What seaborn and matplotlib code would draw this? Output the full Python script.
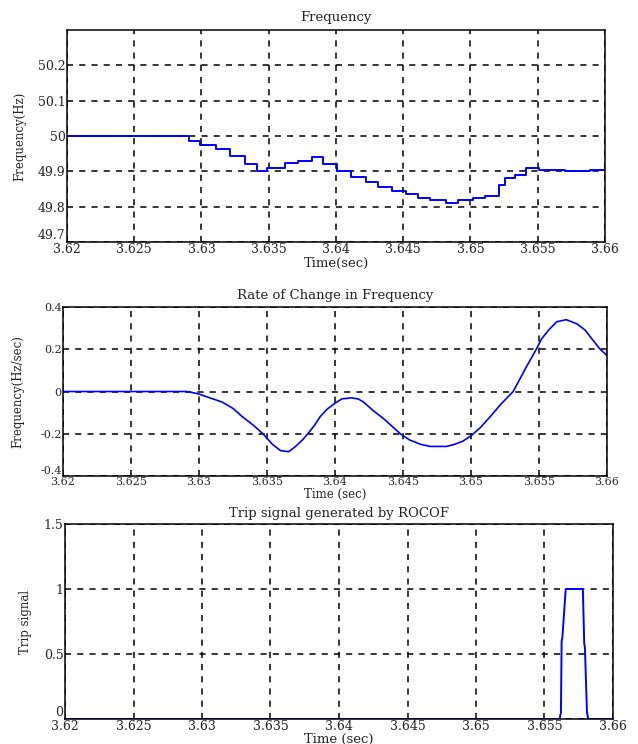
import numpy as np
import pandas as pd
import matplotlib
matplotlib.use("Agg")
import matplotlib.pyplot as plt
import seaborn as sns

# frequency (step signal), time in sec
freq_t = [3.620, 3.6291, 3.6299, 3.6311, 3.6321, 3.6332, 3.6341, 3.6349, 3.6362,
          3.6372, 3.6382, 3.6390, 3.6401, 3.6411, 3.6422, 3.6431, 3.6442, 3.6452,
          3.6461, 3.6470, 3.6482, 3.6491, 3.6502, 3.6511, 3.6521, 3.6526, 3.6533,
          3.6541, 3.6551, 3.6570, 3.6589, 3.660]
freq_hz = [50.0, 49.985, 49.975, 49.963, 49.942, 49.92, 49.90, 49.91, 49.925,
           49.93, 49.94, 49.92, 49.90, 49.885, 49.87, 49.857, 49.843, 49.835,
           49.825, 49.82, 49.81, 49.82, 49.825, 49.83, 49.86, 49.88, 49.89,
           49.91, 49.905, 49.90, 49.905, 49.905]

# rate of change of frequency
rocof_t = [3.620, 3.6291, 3.6299, 3.6308, 3.6317, 3.6325, 3.6332, 3.6340, 3.6347,
           3.6354, 3.6360, 3.6366, 3.6371, 3.6376, 3.6380, 3.6385, 3.6389, 3.6394,
           3.6399, 3.6405, 3.6412, 3.6417, 3.6421, 3.6428, 3.6436, 3.6442, 3.6448,
           3.6455, 3.6463, 3.6470, 3.6476, 3.6482, 3.6488, 3.6494, 3.6500, 3.6507,
           3.6514, 3.6522, 3.6531, 3.6536, 3.6541, 3.6548, 3.6552, 3.6557, 3.6563,
           3.6570, 3.6578, 3.6584, 3.6590, 3.6595, 3.660]
rocof = [0.0, 0.0, -0.01, -0.03, -0.05, -0.08, -0.12, -0.16, -0.20,
         -0.25, -0.28, -0.285, -0.26, -0.23, -0.20, -0.16, -0.12, -0.085,
         -0.06, -0.035, -0.03, -0.035, -0.05, -0.09, -0.13, -0.165, -0.20,
         -0.23, -0.25, -0.26, -0.26, -0.26, -0.25, -0.235, -0.21, -0.17,
         -0.12, -0.06, 0.0, 0.06, 0.12, 0.20, 0.25, 0.29, 0.33,
         0.34, 0.32, 0.29, 0.24, 0.20, 0.17]

# trip signal
trip_t = [3.620, 3.6561, 3.6562, 3.65625, 3.6563, 3.65655, 3.6578, 3.6579, 3.65795, 3.6581, 3.6582, 3.660]
trip = [0, 0, 0.05, 0.6, 0.62, 1.0, 1.0, 0.58, 0.55, 0.05, 0.0, 0.0]

xticks = [3.62, 3.625, 3.63, 3.635, 3.64, 3.645, 3.65, 3.655, 3.66]
xtick_labels = ["3.62", "3.625", "3.63", "3.635", "3.64", "3.645", "3.65", "3.655", "3.66"]

sns.set_style("white")
plt.rcParams["font.family"] = ["DejaVu Serif"]
plt.rcParams["font.size"] = 9

W, H = 638, 744
fig = plt.figure(figsize=(W / 100, H / 100), dpi=100)


def box(l, t, r, b):
    return [l / W, 1 - b / H, (r - l) / W, (b - t) / H]


panels = [
    # left, top, right, bottom in pixels
    (67, 30, 605, 242),
    (63, 307, 607, 476),
    (65, 524, 613, 719),
]
ax1, ax2, ax3 = [fig.add_axes(box(*p)) for p in panels]

sns.lineplot(x=freq_t, y=freq_hz, ax=ax1, color="#0000ff", lw=1.4, drawstyle="steps-post")
sns.lineplot(x=rocof_t, y=rocof, ax=ax2, color="#0000ff", lw=1.2)
sns.lineplot(x=trip_t, y=trip, ax=ax3, color="#0000ff", lw=1.4)

ax1.set_ylim(49.7, 50.3)
ax1.set_yticks([49.7, 49.8, 49.9, 50.0, 50.1, 50.2])
ax1.set_yticklabels(["49.7", "49.8", "49.9", "50", "50.1", "50.2"])

ax2.set_ylim(-0.4, 0.4)
ax2.set_yticks([-0.4, -0.2, 0, 0.2, 0.4])
ax2.set_yticklabels(["-0.4", "-0.2", "0", "0.2", "0.4"])

ax3.set_ylim(0, 1.5)
ax3.set_yticks([0, 0.5, 1, 1.5])
ax3.set_yticklabels(["0", "0.5", "1", "1.5"])

titles = ["Frequency", "Rate of Change in Frequency", "Trip signal generated by ROCOF"]
xlabels = ["Time(sec)", "Time (sec)", "Time (sec)"]
ylabels = ["Frequency(Hz)", "Frequency(Hz/sec)", "Trip signal"]
title_y = [17, 296, 513]
xlabel_y = [263, 494, 739]
ylabel_x = [20, 18, 26]
tick_size = [9, 8, 9]
xlabel_size = [9.5, 8.5, 9.5]

for i, ax in enumerate((ax1, ax2, ax3)):
    l, t, r, b = panels[i]
    ax.set_xlim(3.62, 3.66)
    ax.set_xticks(xticks)
    ax.set_xticklabels(xtick_labels)
    ax.grid(True, color="black", linestyle=(0, (4, 4)), linewidth=1.1)
    ax.tick_params(axis="both", labelsize=tick_size[i], length=3, direction="in", pad=1)
    # lowest y label sits just above the corner, as in the original
    ax.get_yticklabels()[0].set_va("bottom")
    for s in ax.spines.values():
        s.set_color("black")
        s.set_linewidth(1.1)
    ax.set_title(titles[i], fontsize=9.5, pad=0, y=(b - title_y[i]) / (b - t), va="center")
    ax.set_xlabel(xlabels[i], fontsize=xlabel_size[i])
    ax.xaxis.set_label_coords(0.5, (b - xlabel_y[i]) / (b - t))
    ax.xaxis.label.set_va("center")
    ax.set_ylabel(ylabels[i], fontsize=8.5)
    ax.yaxis.set_label_coords((ylabel_x[i] - l) / (r - l), 0.5)
    ax.yaxis.label.set_va("center")

fig.savefig("out.png", dpi=100)
